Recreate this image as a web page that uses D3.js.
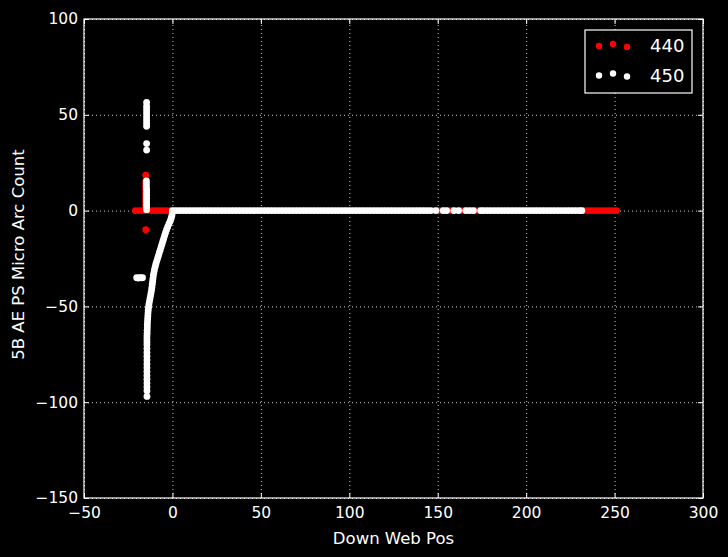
<!DOCTYPE html>
<html>
<head>
<meta charset="utf-8">
<script src="https://cdn.jsdelivr.net/npm/d3@7"></script>
<style>
  body { margin: 0; background: #000; }
  text { font-family: "DejaVu Sans", sans-serif; fill: #fff; }
</style>
</head>
<body>
<div id="chart"></div>
<script>
// ---- data ----
var xTicks = [-50, 0, 50, 100, 150, 200, 250, 300];
var yTicks = [-150, -100, -50, 0, 50, 100];
var seriesNames = ["440", "450"];

// 440: points sitting on the zero line
var red440BaseX = [-21,-19,-17,-15,-13,-11,-9,-7,-5,-3,-1,1,3,5,7,9,11,13,15,17,19,21,23,25,27,29,31,33,35,37,39,41,43,45,47,49,51,53,55,57,59,61,63,65,67,69,71,73,75,77,79,81,83,85,87,89,91,93,95,97,99,101,103,105,107,109,111,113,115,117,119,121,123,125,127,129,131,133,135,137,139,141,143,145,147,149,151,153,155,157,159,161,163,165,167,169,171,173,175,177,179,181,183,185,187,189,191,193,195,197,199,201,203,205,207,209,211,213,215,217,219,221,223,225,227,229,231,233,235,237,239,241,243,245,247,249,251];
// 440: the few off-zero points
var red440Other = [[-15.2,1],[-15.2,3],[-15.2,5],[-15.2,7],[-15.2,9],[-15.2,11],[-15.2,13],[-15.2,15],[-15.1,18.5],[-15.1,-10]];

// 450: points on the zero line
var white450BaseX = [0,2,4,6,8,10,12,14,16,18,20,22,24,26,28,30,32,34,36,38,40,42,44,46,48,50,52,54,56,58,60,62,64,66,68,70,72,74,76,78,80,82,84,86,88,90,92,94,96,98,100,102,104,106,108,110,112,114,116,118,120,122,124,126,128,130,132,134,136,138,140,142,144,146,149,153.1,155,159.1,161.8,165.9,168,170.2,174.3,176,178,180,182,184,186,188,190,192,194,196,198,200,202,204,206,208,210,212,214,216,218,220,222,224,226,228,230,231.5];
// 450: upward spike near -15
var white450Spike = [[-14.6,0.5],[-14.6,2],[-14.6,3.5],[-14.6,5],[-14.6,6.5],[-14.6,8],[-14.6,9.5],[-14.6,11],[-14.7,12.5],[-14.7,14],[-14.7,15.5],[-14.6,31.6],[-14.6,35],[-14.6,44],[-14.6,45.5],[-14.6,47],[-14.6,48.5],[-14.6,50],[-14.6,51.5],[-14.6,53],[-14.6,54.5],[-14.6,56.5]];
// 450: small cluster at -35
var white450Cluster = [[-20.2,-35],[-19.4,-35.2],[-18.5,-35],[-17.7,-35.1],[-16.9,-35]];
// 450: the curve bending down from 0 to about -97
var white450Curve = [[0,-1],[-0.3,-2.5],[-0.7,-4],[-1.3,-5.5],[-2,-7],[-2.7,-8.5],[-3.3,-10],[-3.9,-11.5],[-4.4,-13],[-4.9,-14.5],[-5.4,-16],[-5.9,-17.5],[-6.4,-19],[-6.9,-20.5],[-7.4,-22],[-7.9,-23.5],[-8.4,-25],[-8.9,-26.5],[-9.4,-28],[-9.8,-29.5],[-10.2,-31],[-10.5,-32.5],[-10.8,-34],[-11,-35.5],[-11.2,-37],[-11.4,-38.5],[-11.6,-40],[-11.8,-41.5],[-12.1,-43],[-12.4,-44.5],[-12.7,-46],[-13,-47.5],[-13.3,-49],[-13.5,-50.5],[-13.7,-52],[-13.8,-53.5],[-13.9,-55],[-14,-56.5],[-14.1,-58],[-14.2,-59.5],[-14.2,-61],[-14.3,-62.5],[-14.3,-64],[-14.4,-65.5],[-14.4,-67],[-14.4,-68.5],[-14.4,-70],[-14.4,-72],[-14.4,-74],[-14.4,-76],[-14.4,-78],[-14.4,-80],[-14.4,-82],[-14.4,-84],[-14.4,-86],[-14.4,-88],[-14.4,-90],[-14.4,-92],[-14.4,-94],[-14.4,-97]];

// ---- layout ----
var svgWidth = 728, svgHeight = 557;
var margin = { top: 19, right: 25, bottom: 59, left: 84 };
var width = svgWidth - margin.left - margin.right;
var height = svgHeight - margin.top - margin.bottom;
var r = 3.4;

var svg = d3.select("#chart").append("svg")
    .attr("width", svgWidth)
    .attr("height", svgHeight)
    .style("background", "#000");

var chartGroup = svg.append("g")
    .attr("transform", `translate(${margin.left}, ${margin.top})`);

var xScale = d3.scaleLinear().domain([-50, 300]).range([0, width]);
var yScale = d3.scaleLinear().domain([-150, 100]).range([height, 0]);

// grid (dotted)
chartGroup.append("g")
    .attr("class", "grid")
    .attr("transform", `translate(0, ${height})`)
    .call(d3.axisBottom(xScale).tickValues(xTicks).tickSize(-height).tickFormat(""));
chartGroup.append("g")
    .attr("class", "grid")
    .call(d3.axisLeft(yScale).tickValues(yTicks).tickSize(-width).tickFormat(""));
chartGroup.selectAll(".grid .domain").remove();
chartGroup.selectAll(".grid line")
    .attr("stroke", "#ccc")
    .attr("stroke-width", 1)
    .attr("stroke-dasharray", "1,3");

// points: 440 first, 450 drawn over it
var redPts = red440BaseX.map(x => [x, 0]).concat(red440Other);
var whitePts = white450BaseX.map(x => [x, 0])
    .concat(white450Spike, white450Cluster, white450Curve);

chartGroup.append("g").selectAll("circle")
    .data(redPts).enter().append("circle")
    .attr("cx", d => xScale(d[0]))
    .attr("cy", d => yScale(d[1]))
    .attr("r", r)
    .attr("fill", "#ff0000");

chartGroup.append("g").selectAll("circle")
    .data(whitePts).enter().append("circle")
    .attr("cx", d => xScale(d[0]))
    .attr("cy", d => yScale(d[1]))
    .attr("r", r)
    .attr("fill", "#ffffff");

// axes, ticks pointing inward on all four sides
var bottomAxis = d3.axisBottom(xScale).tickValues(xTicks).tickSizeInner(-5).tickSizeOuter(0).tickPadding(9);
var topAxis = d3.axisTop(xScale).tickValues(xTicks).tickSizeInner(-5).tickSizeOuter(0).tickFormat("");
var leftAxis = d3.axisLeft(yScale).tickValues(yTicks).tickSizeInner(-5).tickSizeOuter(0).tickPadding(6);
var rightAxis = d3.axisRight(yScale).tickValues(yTicks).tickSizeInner(-5).tickSizeOuter(0).tickFormat("");

var axes = [
    chartGroup.append("g").attr("transform", `translate(0, ${height})`).call(bottomAxis),
    chartGroup.append("g").call(topAxis),
    chartGroup.append("g").call(leftAxis),
    chartGroup.append("g").attr("transform", `translate(${width}, 0)`).call(rightAxis)
];
axes.forEach(a => {
    a.select(".domain").remove();
    a.selectAll("line").attr("stroke", "#fff");
    a.selectAll("text").attr("fill", "#fff").style("font-size", "15.5px")
        .style("font-family", "DejaVu Sans, sans-serif");
});

// frame
chartGroup.append("rect")
    .attr("x", 0).attr("y", 0)
    .attr("width", width).attr("height", height)
    .attr("fill", "none")
    .attr("stroke", "#fff")
    .attr("stroke-width", 1.2);

// axis labels
svg.append("text")
    .attr("x", margin.left + width / 2)
    .attr("y", 544)
    .attr("text-anchor", "middle")
    .style("font-size", "16.5px")
    .text("Down Web Pos");

svg.append("text")
    .attr("transform", `translate(24, ${margin.top + height / 2 - 4}) rotate(-90)`)
    .attr("text-anchor", "middle")
    .style("font-size", "16.5px")
    .text("5B AE PS Micro Arc Count");

// legend
var legend = svg.append("g").attr("transform", "translate(585, 30)");
legend.append("rect")
    .attr("width", 107).attr("height", 63)
    .attr("fill", "#000")
    .attr("stroke", "#fff")
    .attr("stroke-width", 1.2);

var legendColors = ["#ff0000", "#ffffff"];
var markerDx = [14, 28, 42];
var markerDy = [0, -2, 1];
seriesNames.forEach((name, i) => {
    var rowY = 16 + i * 29.5;
    markerDx.forEach((dx, j) => {
        legend.append("circle")
            .attr("cx", dx).attr("cy", rowY + markerDy[j])
            .attr("r", 3.2)
            .attr("fill", legendColors[i]);
    });
    legend.append("text")
        .attr("x", 65)
        .attr("y", rowY + 6.3)
        .style("font-size", "18px")
        .text(name);
});
</script>
</body>
</html>
